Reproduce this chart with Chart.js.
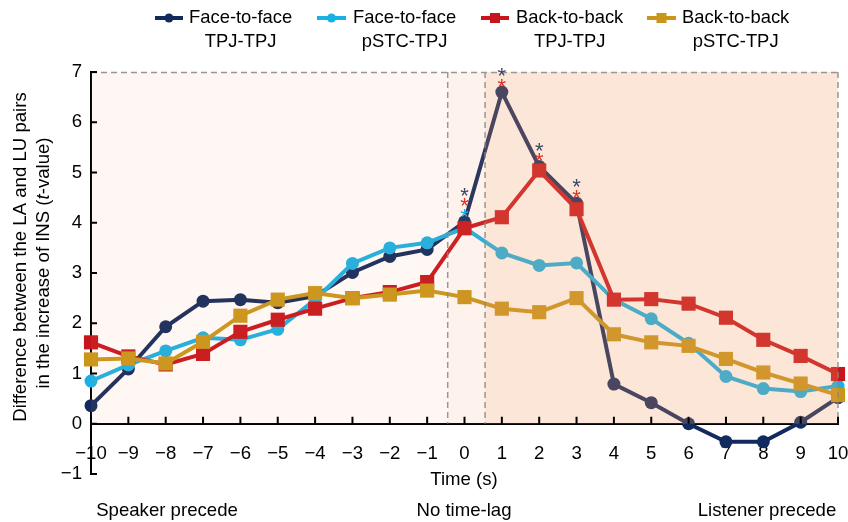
<!DOCTYPE html>
<html>
<head>
<meta charset="utf-8">
<script src="https://cdn.jsdelivr.net/npm/chart.js@4"></script>
<style>
html,body{margin:0;padding:0;background:#ffffff;}
#c{display:block;}
</style>
</head>
<body>
<canvas id="c" width="848" height="522" style="width:848px;height:522px"></canvas>
<script>
// ---- data ----
const times = [-10,-9,-8,-7,-6,-5,-4,-3,-2,-1,0,1,2,3,4,5,6,7,8,9,10];
const faceTPJ  = [0.36,1.09,1.93,2.44,2.47,2.41,2.54,3.01,3.33,3.47,4.02,6.60,5.12,4.39,0.79,0.42,0.00,-0.36,-0.36,0.03,0.52];
const facePSTC = [0.85,1.17,1.45,1.71,1.67,1.88,2.47,3.19,3.50,3.60,3.90,3.40,3.15,3.20,2.47,2.09,1.60,0.94,0.70,0.64,0.75];
const backTPJ  = [1.62,1.34,1.18,1.39,1.83,2.07,2.29,2.50,2.62,2.82,3.89,4.11,5.04,4.27,2.47,2.48,2.39,2.11,1.67,1.35,0.99];
const backPSTC = [1.28,1.30,1.20,1.63,2.15,2.47,2.60,2.50,2.57,2.65,2.52,2.29,2.22,2.50,1.78,1.62,1.55,1.29,1.02,0.80,0.57];
const seriesNames = [["Face-to-face","TPJ-TPJ"],["Face-to-face","pSTC-TPJ"],["Back-to-back","TPJ-TPJ"],["Back-to-back","pSTC-TPJ"]];
// significant time points (asterisks)
const sigFaceTPJ = [0,1,2,3];
const sigBackTPJ = [0,1,2,3];
const sigFacePSTC = [0];
const yTickValues = [-1,0,1,2,3,4,5,6,7];
const regionBounds = [-10,-0.45,0.55,10];
const regionLabels = ["Speaker precede","No time-lag","Listener precede"];
const xTitle = "Time (s)";
const yTitle1 = "Difference between the LA and LU pairs";
const yTitle2 = ["in the increase of INS (","t","-value)"];

// ---- styles ----
const colors = ['#132a5e','#17b1e6','#c8141c','#c9961a'];
const starColors = ['#3f4668','#1ab0e8','#e0302a'];
const FONT = "'Liberation Sans', Arial, Helvetica, sans-serif";
const FS = 18.6;
const series = [faceTPJ, facePSTC, backTPJ, backPSTC];
const styles = ['circle','circle','rect','rect'];
const radii = [6.5,6.5,10,10];
const orders = [3,2,1,0];

const datasets = series.map((s,i)=>({
  label: seriesNames[i].join(' '),
  data: times.map((t,k)=>({x:t,y:s[k]})),
  borderColor: colors[i],
  backgroundColor: colors[i],
  pointBackgroundColor: colors[i],
  pointBorderColor: colors[i],
  pointBorderWidth: 0,
  borderWidth: 4,
  pointStyle: styles[i],
  pointRadius: radii[i],
  pointHoverRadius: radii[i],
  tension: 0,
  clip: false,
  order: orders[i]
}));

const minusFmt = v => (v < 0 ? '\u2212' : '') + Math.abs(v);

const deco = {
  id: 'deco',
  afterDatasetsDraw(chart){
    const {ctx, scales:{x, y}} = chart;
    const y0 = y.getPixelForValue(0), y7 = y.getPixelForValue(7);
    const alphas = [0.08, 0.12, 0.25];
    ctx.save();
    for (let i = 0; i < 3; i++){
      const xa = x.getPixelForValue(regionBounds[i]);
      const xb = x.getPixelForValue(regionBounds[i+1]);
      ctx.fillStyle = 'rgba(239,156,100,' + alphas[i] + ')';
      ctx.fillRect(xa, y7, xb - xa, y0 - y7);
    }
    ctx.setLineDash([6,4]);
    ctx.strokeStyle = 'rgba(135,135,135,0.85)';
    ctx.lineWidth = 1.5;
    ctx.beginPath();
    ctx.moveTo(x.getPixelForValue(-10), y7 + 0.5);
    ctx.lineTo(x.getPixelForValue(10), y7 + 0.5);
    [regionBounds[1], regionBounds[2], regionBounds[3]].forEach(v=>{
      const px = x.getPixelForValue(v);
      ctx.moveTo(px, y7); ctx.lineTo(px, y0);
    });
    ctx.stroke();
    ctx.restore();
  },
  afterDraw(chart){
    const {ctx, scales:{x, y}} = chart;
    const y0 = y.getPixelForValue(0);
    const left = x.getPixelForValue(-10);
    ctx.save();
    // tick marks (inward)
    ctx.strokeStyle = '#000'; ctx.lineWidth = 2;
    ctx.beginPath();
    times.forEach(t=>{ const px = x.getPixelForValue(t); ctx.moveTo(px, y0); ctx.lineTo(px, y0 - 7); });
    yTickValues.forEach(v=>{ const py = y.getPixelForValue(v); ctx.moveTo(left, py); ctx.lineTo(left + 6, py); });
    ctx.stroke();

    // asterisks
    const SS = 22;
    ctx.font = SS + 'px ' + FONT;
    ctx.textAlign = 'center';
    ctx.textBaseline = 'alphabetic';
    times.forEach((t,k)=>{
      const stack = [];
      if (sigFacePSTC.includes(t)) stack.push(starColors[1]);
      if (sigBackTPJ.includes(t)) stack.push(starColors[2]);
      if (sigFaceTPJ.includes(t)) stack.push(starColors[0]);
      if (!stack.length) return;
      const top = Math.max(faceTPJ[k], facePSTC[k], backTPJ[k], backPSTC[k]);
      const base = y.getPixelForValue(top);
      const px = x.getPixelForValue(t);
      stack.forEach((c,i)=>{
        const cy = base - 11 - 10.5*i;
        ctx.fillStyle = c;
        ctx.fillText('*', px, cy + 0.58*SS);
      });
    });

    // texts
    ctx.fillStyle = '#000';
    ctx.font = FS + 'px ' + FONT;
    ctx.textAlign = 'center';
    ctx.textBaseline = 'middle';
    ctx.fillText(xTitle, 464, 480);
    const regX = [167, 464, 767];
    regionLabels.forEach((s,i)=> ctx.fillText(s, regX[i], 511));

    // y title
    ctx.save();
    ctx.translate(21, 257);
    ctx.rotate(-Math.PI/2);
    ctx.fillText(yTitle1, 0, 0);
    ctx.restore();
    ctx.save();
    ctx.translate(44, 263);
    ctx.rotate(-Math.PI/2);
    ctx.textAlign = 'left';
    const normal = FS + 'px ' + FONT, ital = 'italic ' + FS + 'px ' + FONT;
    const widths = yTitle2.map((s,i)=>{ ctx.font = i===1 ? ital : normal; return ctx.measureText(s).width; });
    let cx = -widths.reduce((a,b)=>a+b,0)/2;
    yTitle2.forEach((s,i)=>{ ctx.font = i===1 ? ital : normal; ctx.fillText(s, cx, 0); cx += widths[i]; });
    ctx.restore();

    // legend
    const mk = [[155,183],[317,346],[481,509],[647,676]];
    const tx = [189,353,516,682];
    ctx.font = '18.4px ' + FONT;
    for (let i = 0; i < 4; i++){
      ctx.strokeStyle = colors[i]; ctx.fillStyle = colors[i]; ctx.lineWidth = 4;
      ctx.beginPath(); ctx.moveTo(mk[i][0], 18); ctx.lineTo(mk[i][1], 18); ctx.stroke();
      const cxm = (mk[i][0] + mk[i][1]) / 2;
      ctx.beginPath();
      if (styles[i] === 'circle') { ctx.arc(cxm, 18, 4.5, 0, Math.PI*2); }
      else { ctx.rect(cxm - 5, 13, 10, 10); }
      ctx.fill();
      ctx.fillStyle = '#000';
      ctx.textAlign = 'left';
      ctx.fillText(seriesNames[i][0], tx[i], 18);
      const w = ctx.measureText(seriesNames[i][0]).width;
      ctx.textAlign = 'center';
      ctx.fillText(seriesNames[i][1], tx[i] + w/2, 42);
    }
    ctx.restore();
  }
};

new Chart(document.getElementById('c'), {
  type: 'line',
  data: { datasets },
  options: {
    responsive: false,
    devicePixelRatio: 1,
    animation: false,
    events: [],
    layout: { padding: { top: 72, bottom: 48, left: 0, right: 10 } },
    plugins: { legend: { display: false }, tooltip: { enabled: false }, title: { display: false } },
    scales: {
      x: {
        type: 'linear',
        min: -10, max: 10,
        position: { y: 0 },
        grid: { display: false, drawTicks: false },
        border: { display: true, color: '#000', width: 2 },
        ticks: { stepSize: 1, autoSkip: false, maxRotation: 0, padding: 19, color: '#000',
                 font: { family: FONT, size: FS }, callback: minusFmt },
        afterFit(scale){ scale.paddingLeft = 0; scale.paddingRight = 0; }
      },
      y: {
        type: 'linear',
        min: -1, max: 7,
        grid: { display: false, drawTicks: false },
        border: { display: true, color: '#000', width: 2 },
        ticks: { stepSize: 1, padding: 9, color: '#000',
                 font: { family: FONT, size: FS }, callback: minusFmt },
        afterFit(scale){ scale.width = 91; scale.paddingTop = 0; scale.paddingBottom = 0; }
      }
    }
  },
  plugins: [deco]
});
</script>
</body>
</html>
